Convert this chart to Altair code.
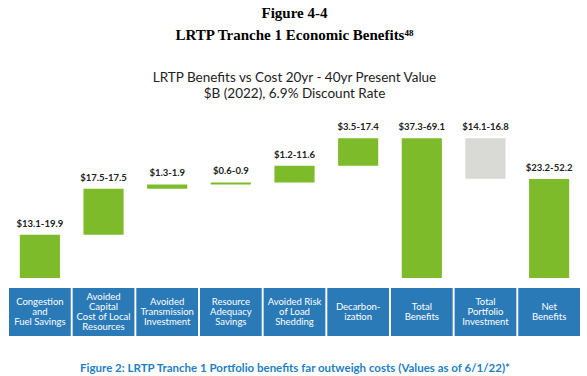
import altair as alt
import pandas as pd

categories = ["Congestion and Fuel Savings", "Avoided Capital Cost of Local Resources",
              "Avoided Transmission Investment", "Resource Adequacy Savings",
              "Avoided Risk of Load Shedding", "Decarbonization", "Total Benefits",
              "Total Portfolio Investment", "Net Benefits"]
box_labels = ["Congestion\nand\nFuel Savings", "Avoided\nCapital\nCost of Local\nResources",
              "Avoided\nTransmission\nInvestment", "Resource\nAdequacy\nSavings",
              "Avoided Risk\nof Load\nShedding", "Decarbon-\nization", "Total\nBenefits",
              "Total\nPortfolio\nInvestment", "Net\nBenefits"]
low = [13.1, 17.5, 1.3, 0.6, 1.2, 3.5, 37.3, 14.1, 23.2]
high = [19.9, 17.5, 1.9, 0.9, 11.6, 17.4, 69.1, 16.8, 52.2]
kinds = ["benefit"] * 6 + ["total", "cost", "net"]

rows = []
cum = 0.0
for c, b, lo, hi, k in zip(categories, box_labels, low, high, kinds):
    mid = (lo + hi) / 2
    if k == "benefit":
        s, e = cum, cum + mid
        cum = e
    elif k == "total":
        s, e = 0.0, mid
    elif k == "cost":
        s, e = cum, cum - mid
    else:
        s, e = 0.0, mid
    rows.append(dict(cat=c, box=b, nlines=b.count("\n") + 1, start=s, end=e,
                     top=max(s, e), label=f"${lo}-{hi}", kind=k))
df = pd.DataFrame(rows)

xscale = alt.Scale(domain=categories, paddingInner=0.03, paddingOuter=0)
color = alt.Color("kind:N", legend=None,
                  scale=alt.Scale(domain=["benefit", "total", "cost", "net"],
                                  range=["#7dbb2a", "#7dbb2a", "#d9d9d6", "#7dbb2a"]))

xtop = alt.X("cat:N", scale=xscale, sort=categories, axis=None)
bars = alt.Chart(df).mark_bar(width=alt.RelativeBandSize(0.65)).encode(
    x=xtop,
    y=alt.Y("start:Q", scale=alt.Scale(domain=[0, 60.9]), axis=None),
    y2="end:Q",
    color=color,
)
labels = alt.Chart(df).mark_text(dy=-11, font="Lato", fontSize=9.5, fontWeight="bold",
                                 color="#222222").encode(
    x=xtop,
    y=alt.Y("top:Q", scale=alt.Scale(domain=[0, 60.9]), axis=None),
    text="label:N",
)
top = (bars + labels).properties(width=571, height=160)

xbot = alt.X("cat:N", scale=xscale, sort=categories,
             axis=alt.Axis(labels=False, ticks=False, domain=False,
                           title="Figure 2: LRTP Tranche 1 Portfolio benefits far outweigh costs (Values as of 6/1/22)*",
                           titleFont="Lato", titleFontSize=11.5, titleFontWeight="bold",
                           titleColor="#1f7fc4", titlePadding=26))
boxes = alt.Chart(df).mark_rect(color="#2a7ab8").encode(x=xbot)
LH = 10
text_layers = []
for n in [2, 3, 4]:
    text_layers.append(
        alt.Chart(df).transform_filter(alt.datum.nlines == n).mark_text(
            color="white", font="Lato", fontSize=9.5, lineHeight=LH,
            lineBreak="\n", baseline="middle", dy=-(n - 1) * LH / 2
        ).encode(x=xbot, text="box:N")
    )
bottom = alt.layer(boxes, *text_layers).properties(width=571, height=48)

chart = alt.vconcat(top, bottom, spacing=10).properties(
    title=alt.TitleParams(
        text=["Figure 4-4", "LRTP Tranche 1 Economic Benefits\u2074\u2078"],
        subtitle=["LRTP Benefits vs Cost 20yr - 40yr Present Value", "$B (2022), 6.9% Discount Rate"],
        font="Liberation Serif", fontSize=15, fontWeight="bold", lineHeight=22, color="#000000",
        subtitleFont="Lato", subtitleFontSize=13.5, subtitleLineHeight=16,
        subtitleColor="#222222", subtitlePadding=28, anchor="middle", offset=18,
    ),
    padding={"left": 9, "right": 7, "top": 5, "bottom": 2},
).configure_view(stroke=None)

chart.save("out.html", embed_options={"renderer": "svg", "actions": False})
